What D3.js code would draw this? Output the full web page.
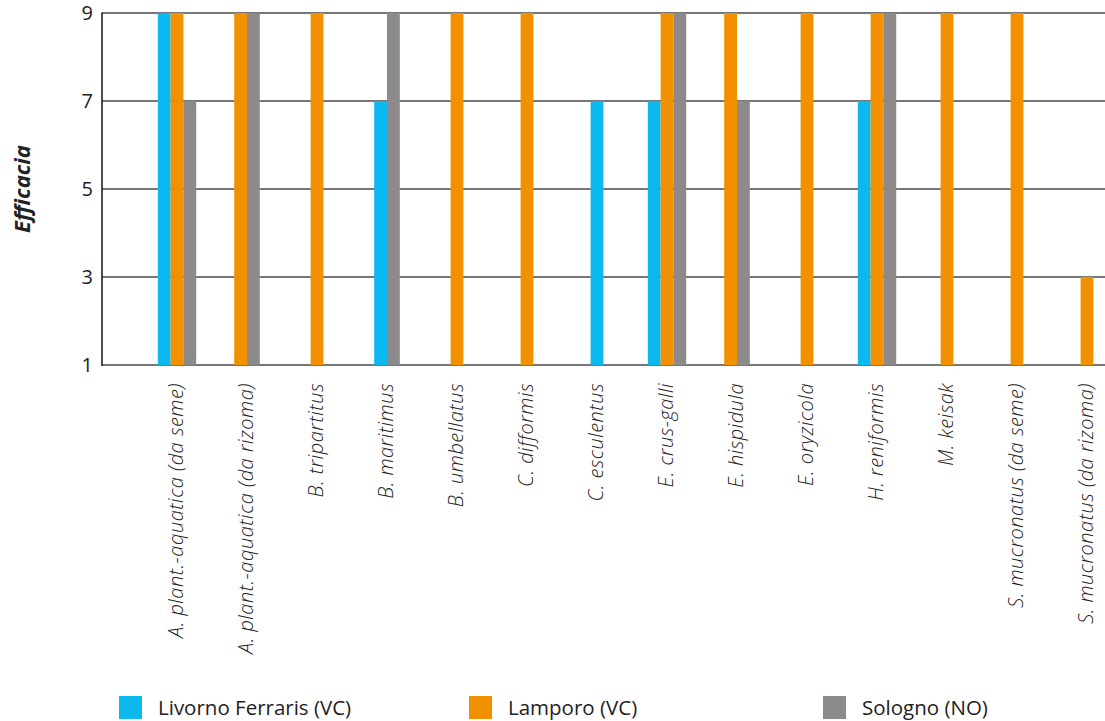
<!DOCTYPE html>
<html><head><meta charset="utf-8">
<script src="https://cdn.jsdelivr.net/npm/d3@7"></script>
<style>
html,body{margin:0;padding:0;background:#fff;}
svg{display:block;}
</style></head>
<body>
<svg id="chart" width="1105" height="721"></svg>
<script>
const categories = [
  "A. plant.-aquatica (da seme)",
  "A. plant.-aquatica (da rizoma)",
  "B. tripartitus",
  "B. maritimus",
  "B. umbellatus",
  "C. difformis",
  "C. esculentus",
  "E. crus-galli",
  "E. hispidula",
  "E. oryzicola",
  "H. reniformis",
  "M. keisak",
  "S. mucronatus (da seme)",
  "S. mucronatus (da rizoma)"
];
const seriesNames = ["Livorno Ferraris (VC)", "Lamporo (VC)", "Sologno (NO)"];
const livorno = [9, null, null, 7, null, null, 7, 7, null, null, 7, null, null, null];
const lamporo = [9, 9, 9, null, 9, 9, null, 9, 9, 9, 9, 9, 9, 3];
const sologno = [7, 9, null, 9, null, null, null, 9, 7, null, 9, null, null, null];
const yTicks = [1, 3, 5, 7, 9];
const colors = ["#0bb9ef", "#f29100", "#8c8a8b"];
const yTitle = "Efficacia";

const seriesValues = [livorno, lamporo, sologno];
const svg = d3.select("#chart");

const x = d3.scaleBand().domain(categories).range([142, 1122]).padding(0);
const y = d3.scaleLinear().domain([1, 9]).range([365, 13]);
const barW = 12.8;

// gridlines
svg.append("g").selectAll("line").data(yTicks).join("line")
  .attr("x1", 102).attr("x2", 1105)
  .attr("y1", d => y(d)).attr("y2", d => y(d))
  .attr("stroke", "#4a4a4a").attr("stroke-width", 1.3);

// y tick labels
svg.append("g").selectAll("text").data(yTicks).join("text")
  .attr("x", 93).attr("y", d => y(d))
  .attr("dy", "0.36em")
  .attr("text-anchor", "end")
  .attr("font-family", "Open Sans, sans-serif")
  .attr("font-size", 20)
  .attr("fill", "#222")
  .text(d => d);

// bars
const barData = [];
categories.forEach((c, i) => {
  const present = seriesValues.map((s, k) => ({k, v: s[i]})).filter(d => d.v != null);
  const n = present.length;
  const cx = x(c) + x.bandwidth() / 2;
  present.forEach((d, j) => {
    barData.push({cat: c, k: d.k, v: d.v, x0: cx - n * barW / 2 + j * barW});
  });
});
svg.append("g").selectAll("rect").data(barData).join("rect")
  .attr("x", d => d.x0)
  .attr("y", d => y(d.v))
  .attr("width", barW)
  .attr("height", d => y(1) - y(d.v))
  .attr("fill", d => colors[d.k]);

// y axis line
svg.append("line").attr("x1", 102).attr("x2", 102).attr("y1", 12.5).attr("y2", 366)
  .attr("stroke", "#111").attr("stroke-width", 1.5);

// category labels
svg.append("g").selectAll("text").data(categories).join("text")
  .attr("transform", d => `translate(${x(d) + x.bandwidth() / 2 + 6},383) rotate(-90)`)
  .attr("text-anchor", "end")
  .attr("font-family", "Open Sans, sans-serif")
  .attr("font-style", "italic")
  .attr("font-weight", 300)
  .attr("font-size", 20)
  .attr("letter-spacing", "0.5px")
  .attr("fill", "#222")
  .text(d => d);

// y title
svg.append("text")
  .attr("transform", "translate(30,189) rotate(-90)")
  .attr("text-anchor", "middle")
  .attr("font-family", "Open Sans, sans-serif")
  .attr("font-style", "italic")
  .attr("font-weight", 700)
  .attr("font-size", 22)
  .attr("fill", "#222")
  .text(yTitle);

// legend
const legX = [119, 469, 823];
const leg = svg.append("g").selectAll("g").data(seriesNames).join("g")
  .attr("transform", (d, i) => `translate(${legX[i]},696)`);
leg.append("rect").attr("width", 23).attr("height", 23).attr("fill", (d, i) => colors[i]);
leg.append("text").attr("x", 39).attr("y", 19)
  .attr("font-family", "Open Sans, sans-serif")
  .attr("font-size", 20.5)
  .attr("fill", "#222")
  .text(d => d);
</script>
</body></html>
